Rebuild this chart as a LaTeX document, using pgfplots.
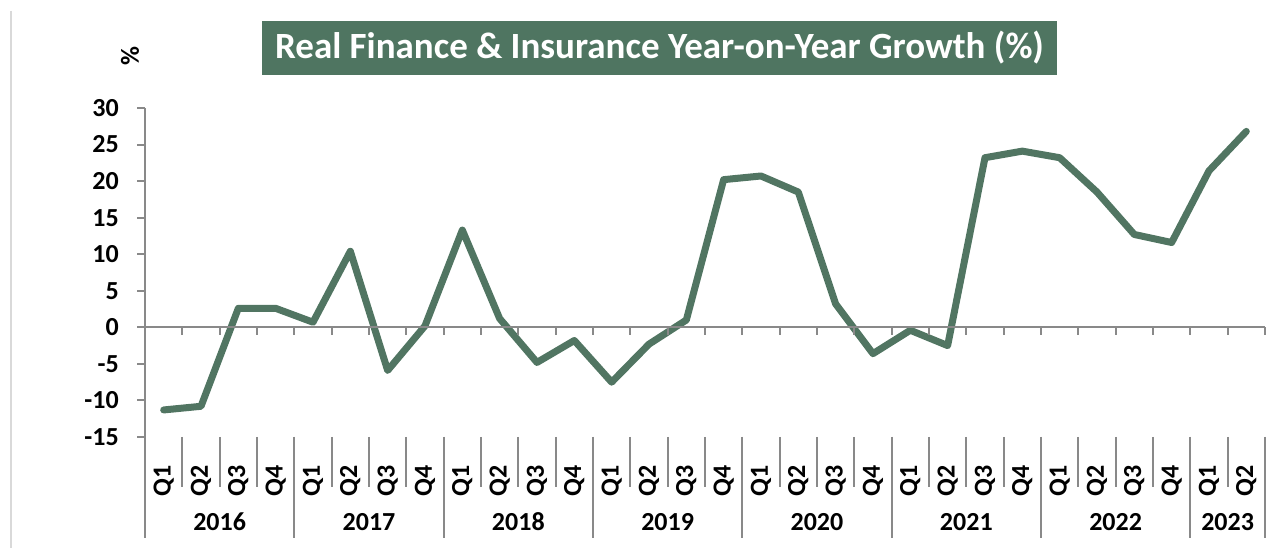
\documentclass[border=0pt]{standalone}
\usepackage{fontspec}
\setmainfont{Carlito}
\usepackage{pgfplots}
\pgfplotsset{compat=1.18}
\definecolor{lineg}{HTML}{517562}
\definecolor{titleg}{HTML}{4F7561}
\definecolor{axgray}{HTML}{898989}
\newcommand{\lbl}{\fontsize{26}{26}\selectfont\bfseries}

\begin{document}
\begin{tikzpicture}[x=1pt,y=1pt]
\path[use as bounding box] (0,0) rectangle (1284,548);
\draw[black!15, line width=2pt] (11,537) -- (11,0);
\begin{axis}[
  at={(145pt,111pt)}, anchor=south west,
  scale only axis, width=1120pt, height=329pt,
  xmin=-0.5, xmax=29.5, ymin=-15, ymax=30,
  clip=false,
  axis lines*=left,
  x axis line style={draw=none},
  y axis line style={axgray, line width=2pt},
  xtick={0,...,29},
  xticklabels={Q1,Q2,Q3,Q4,Q1,Q2,Q3,Q4,Q1,Q2,Q3,Q4,Q1,Q2,Q3,Q4,Q1,Q2,Q3,Q4,Q1,Q2,Q3,Q4,Q1,Q2,Q3,Q4,Q1,Q2},
  xtick style={draw=none},
  x tick label style={rotate=90, anchor=east, inner sep=0pt, font=\lbl},
  xticklabel shift=20pt,
  ytick={-15,-10,...,30},
  yticklabels={-15,-10,-5,0,5,10,15,20,25,30},
  ytick style={axgray, line width=2pt},
  tick align=outside, major tick length=8pt,
  y tick label style={anchor=east, inner sep=0pt, font=\lbl},
  yticklabel shift=18pt,
]
\addplot[lineg, line width=7pt, line cap=round, line join=round, mark=none] coordinates {
(0,-11.3) (1,-10.8) (2,2.6) (3,2.6)
(4,0.7) (5,10.4) (6,-5.9) (7,0.2)
(8,13.3) (9,1.2) (10,-4.8) (11,-1.8)
(12,-7.5) (13,-2.3) (14,1.0) (15,20.2)
(16,20.7) (17,18.5) (18,3.2) (19,-3.6)
(20,-0.4) (21,-2.5) (22,23.2) (23,24.1)
(24,23.2) (25,18.5) (26,12.7) (27,11.6)
(28,21.4) (29,26.8)};
% zero line with ticks
\draw[axgray, line width=2pt] (axis cs:-0.5,0) -- (axis cs:29.5,0);
\pgfplotsinvokeforeach{-0.5,0.5,...,29.5}{
  \draw[axgray, line width=2pt] (axis cs:#1,0) -- ++(0pt,-8pt);
  \draw[axgray, line width=2pt] (axis cs:#1,-15) -- ++(0pt,-50pt);
}
\pgfplotsinvokeforeach{-0.5,3.5,7.5,11.5,15.5,19.5,23.5,27.5,29.5}{
  \draw[axgray, line width=2pt] (axis cs:#1,-15) -- ++(0pt,-101pt);
}
\node[font=\lbl] at (axis cs:1.5,-15) [yshift=-85pt] {2016};
\node[font=\lbl] at (axis cs:5.5,-15) [yshift=-85pt] {2017};
\node[font=\lbl] at (axis cs:9.5,-15) [yshift=-85pt] {2018};
\node[font=\lbl] at (axis cs:13.5,-15) [yshift=-85pt] {2019};
\node[font=\lbl] at (axis cs:17.5,-15) [yshift=-85pt] {2020};
\node[font=\lbl] at (axis cs:21.5,-15) [yshift=-85pt] {2021};
\node[font=\lbl] at (axis cs:25.5,-15) [yshift=-85pt] {2022};
\node[font=\lbl] at (axis cs:28.5,-15) [yshift=-85pt] {2023};
\end{axis}
\node[fill=titleg, text=white, minimum width=795pt, minimum height=54pt, inner sep=0pt,
  font=\fontsize{37}{37}\selectfont\bfseries] at (659.5,500) {Real Finance \& Insurance Year-on-Year Growth (\%)};
\node[rotate=90, font=\lbl, inner sep=0pt] at (130,492) {\%};
\end{tikzpicture}
\end{document}
